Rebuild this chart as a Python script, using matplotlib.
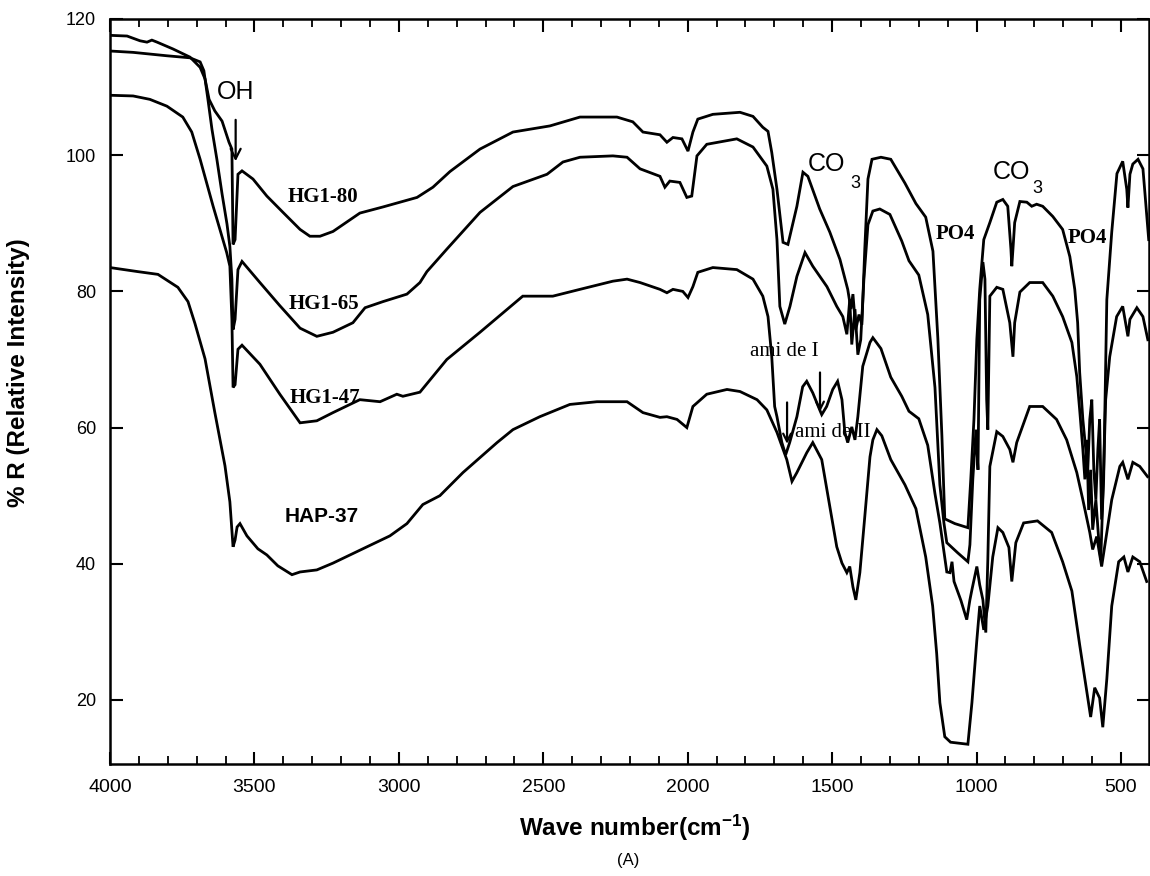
import matplotlib
matplotlib.use("Agg")
import matplotlib.pyplot as plt
from matplotlib.ticker import MultipleLocator

plt.rcParams['font.family'] = ['Liberation Sans', 'DejaVu Sans']
plt.rcParams['mathtext.fontset'] = 'custom'
plt.rcParams['mathtext.rm'] = 'Liberation Sans'
plt.rcParams['mathtext.bf'] = 'Liberation Sans:bold'
plt.rcParams['mathtext.it'] = 'Liberation Sans:italic'

# ---------------- data (wavenumber cm-1, %R) ----------------
hg80_wn = [4000, 3941, 3896, 3872, 3855, 3837, 3782, 3723, 3688, 3671, 3657, 3637, 3612, 3588, 3578,
           3574, 3567, 3557, 3543, 3505, 3457, 3401, 3342, 3308, 3273, 3228, 3135, 3055, 2937, 2882,
           2823, 2719, 2605, 2477, 2373, 2245, 2190, 2155, 2096, 2072, 2051, 2020, 1999, 1982, 1965,
           1913, 1819, 1774, 1740, 1722, 1709, 1691, 1670, 1653, 1622, 1601, 1584, 1543, 1508, 1473,
           1446, 1435, 1428, 1418, 1407, 1397, 1387, 1376, 1362, 1331, 1297, 1248, 1210, 1176, 1151,
           1134, 1120, 1110, 1075, 1030, 1020, 1009, 999, 989, 975, 954, 930, 909, 892, 881,
           878, 874, 868, 850, 826, 809, 792, 771, 736, 702, 677, 660, 650, 643, 632,
           622, 615, 608, 601, 594, 587, 580, 574, 567, 560, 549, 532, 514, 494, 480,
           476, 469, 459, 441, 424, 417, 404]
hg80_r = [117.6, 117.5, 116.8, 116.6, 116.9, 116.6, 115.6, 114.4, 112.9, 111.2, 108.2, 106.5, 105.0, 101.9, 100.9,
          86.9, 87.6, 97.2, 97.7, 96.5, 94.0, 91.6, 89.1, 88.1, 88.1, 88.8, 91.5, 92.4, 93.8, 95.3,
          97.6, 100.9, 103.4, 104.3, 105.6, 105.6, 104.9, 103.4, 103.0, 101.9, 102.6, 102.4, 100.6, 103.4, 105.3,
          106.0, 106.3, 105.7, 104.1, 103.5, 100.4, 95.0, 87.2, 86.9, 92.5, 97.5, 96.9, 92.1, 88.7, 84.7,
          80.3, 77.4, 79.6, 74.4, 76.6, 75.1, 86.2, 96.5, 99.4, 99.7, 99.4, 95.9, 92.9, 90.9, 85.9,
          73.1, 58.8, 46.6, 45.9, 45.3, 52.4, 61.2, 73.0, 80.3, 87.6, 90.1, 93.1, 93.5, 92.5, 86.2,
          83.7, 86.2, 90.1, 93.2, 93.1, 92.5, 92.8, 92.5, 91.0, 89.1, 85.1, 80.3, 75.4, 68.1, 61.2,
          56.8, 53.8, 61.2, 64.1, 53.8, 49.4, 56.8, 61.2, 46.5, 52.4, 78.8, 88.7, 97.3, 99.1, 95.0,
          92.3, 97.2, 98.7, 99.4, 98.0, 94.4, 87.6]

hg65_wn = [4000, 3920, 3803, 3723, 3688, 3675, 3661, 3647, 3630, 3612, 3595, 3585, 3578, 3574, 3567,
           3557, 3543, 3481, 3412, 3342, 3284, 3228, 3159, 3117, 3055, 2972, 2927, 2903, 2834, 2719,
           2605, 2487, 2432, 2373, 2259, 2210, 2165, 2096, 2079, 2062, 2027, 2003, 1986, 1968, 1934,
           1830, 1774, 1726, 1705, 1691, 1681, 1664, 1646, 1622, 1594, 1567, 1518, 1484, 1463, 1449,
           1439, 1432, 1421, 1411, 1401, 1390, 1376, 1359, 1335, 1300, 1259, 1234, 1200, 1169, 1144,
           1127, 1113, 1103, 1065, 1030, 1023, 1013, 1002, 995, 989, 978, 971, 965, 961, 954,
           930, 909, 885, 874, 868, 850, 816, 771, 736, 702, 670, 653, 643, 632, 625,
           618, 612, 605, 598, 587, 577, 570, 563, 553, 539, 515, 494, 476, 469, 445,
           424, 407]
hg65_r = [115.3, 115.1, 114.6, 114.3, 113.7, 112.4, 108.2, 103.8, 99.4, 94.3, 89.9, 86.6, 81.8, 74.4, 75.9,
          83.2, 84.4, 81.3, 77.9, 74.6, 73.4, 74.0, 75.4, 77.6, 78.5, 79.6, 81.3, 82.9, 86.2, 91.6,
          95.4, 97.2, 99.0, 99.7, 99.9, 99.7, 98.0, 96.9, 95.3, 96.2, 96.0, 93.8, 94.0, 99.9, 101.6,
          102.4, 101.2, 98.4, 95.0, 87.6, 77.8, 75.2, 77.8, 82.2, 85.7, 83.7, 80.7, 77.8, 76.3, 73.7,
          78.8, 72.2, 77.4, 70.7, 72.9, 81.8, 89.8, 91.8, 92.1, 91.3, 87.4, 84.5, 82.4, 76.6, 65.9,
          51.6, 46.0, 43.1, 41.6, 40.3, 42.8, 52.4, 59.7, 53.8, 78.8, 84.3, 81.8, 64.1, 59.7, 79.3,
          80.6, 80.3, 75.4, 70.4, 75.4, 79.9, 81.3, 81.3, 79.3, 76.3, 72.5, 67.5, 62.6, 56.8, 52.4,
          58.2, 47.9, 53.8, 45.0, 49.4, 43.5, 40.6, 49.4, 64.1, 70.4, 76.3, 77.8, 73.4, 75.9, 77.6,
          76.3, 72.9]

hg47_wn = [4000, 3920, 3862, 3803, 3748, 3717, 3688, 3643, 3596, 3585, 3578, 3574, 3567, 3557, 3543,
           3481, 3412, 3342, 3284, 3228, 3135, 3065, 3007, 2986, 2927, 2834, 2719, 2571, 2467, 2373,
           2259, 2210, 2165, 2096, 2072, 2051, 2017, 1999, 1982, 1965, 1913, 1830, 1774, 1740, 1722,
           1709, 1699, 1691, 1674, 1661, 1647, 1622, 1602, 1588, 1567, 1543, 1536, 1519, 1498, 1481,
           1466, 1456, 1446, 1432, 1421, 1411, 1394, 1369, 1359, 1331, 1297, 1259, 1234, 1200, 1169,
           1144, 1127, 1103, 1092, 1085, 1078, 1054, 1034, 1023, 1016, 999, 989, 978, 968, 961,
           954, 930, 909, 885, 874, 861, 816, 771, 723, 688, 653, 632, 608, 598, 584,
           567, 549, 532, 504, 494, 476, 459, 435, 408]
hg47_r = [108.8, 108.7, 108.2, 107.2, 105.6, 103.4, 99.4, 92.5, 85.7, 83.7, 75.9, 65.9, 66.3, 71.5, 72.1,
          69.3, 64.9, 60.7, 61.0, 62.2, 64.1, 63.8, 64.9, 64.6, 65.2, 70.0, 74.0, 79.3, 79.3, 80.3,
          81.5, 81.8, 81.3, 80.3, 79.8, 80.3, 80.0, 79.1, 80.7, 82.8, 83.5, 83.2, 81.8, 79.3, 76.3,
          70.4, 63.1, 61.6, 57.8, 56.0, 57.8, 61.6, 66.0, 66.8, 65.1, 62.6, 61.9, 63.1, 65.6, 66.8,
          64.1, 59.3, 57.8, 60.1, 58.2, 61.6, 69.0, 72.5, 73.2, 71.6, 67.4, 64.6, 62.4, 61.3, 57.4,
          50.3, 46.0, 38.8, 38.7, 40.3, 37.4, 34.6, 31.8, 34.7, 36.2, 39.6, 36.9, 34.7, 29.9, 40.6,
          54.3, 59.4, 58.7, 56.8, 54.9, 57.8, 63.1, 63.1, 61.2, 58.2, 53.4, 49.4, 44.6, 42.1, 44.0,
          39.6, 44.6, 49.4, 54.3, 54.9, 52.4, 54.9, 54.3, 52.8]

hap37_wn = [4000, 3903, 3834, 3765, 3730, 3706, 3671, 3637, 3602, 3585, 3574, 3567, 3560, 3550, 3526,
            3488, 3457, 3419, 3370, 3342, 3284, 3228, 3169, 3110, 3031, 2972, 2917, 2858, 2778, 2660,
            2605, 2512, 2408, 2314, 2210, 2155, 2096, 2072, 2037, 2003, 1982, 1934, 1864, 1819, 1760,
            1726, 1691, 1657, 1639, 1622, 1588, 1567, 1536, 1508, 1484, 1466, 1449, 1439, 1428, 1418,
            1404, 1387, 1369, 1359, 1345, 1328, 1297, 1248, 1210, 1176, 1152, 1138, 1127, 1110, 1090,
            1030, 1016, 999, 989, 975, 961, 944, 926, 909, 888, 878, 864, 837, 789, 740,
            702, 670, 643, 615, 605, 591, 574, 563, 549, 532, 508, 490, 476, 459, 435,
            411]
hap37_r = [83.5, 82.9, 82.5, 80.6, 78.5, 75.3, 70.1, 62.2, 54.4, 49.1, 42.5, 43.5, 45.4, 45.9, 44.1,
           42.2, 41.3, 39.7, 38.4, 38.8, 39.1, 40.1, 41.3, 42.5, 44.1, 45.9, 48.7, 50.0, 53.4, 57.8,
           59.7, 61.6, 63.4, 63.8, 63.8, 62.2, 61.5, 61.6, 61.2, 60.0, 63.1, 64.9, 65.6, 65.3, 64.1,
           62.6, 59.3, 55.3, 52.1, 53.4, 56.3, 57.8, 55.3, 48.4, 42.5, 40.1, 38.7, 39.6, 36.6, 34.7,
           38.7, 46.9, 55.7, 58.2, 59.7, 58.8, 55.3, 51.6, 48.1, 41.0, 33.8, 26.8, 19.6, 14.6, 13.8,
           13.5, 19.6, 28.8, 33.8, 30.3, 33.8, 41.0, 45.3, 44.6, 42.4, 37.4, 43.1, 46.0, 46.3, 44.6,
           40.3, 36.0, 28.1, 20.3, 17.5, 21.8, 20.3, 16.0, 23.1, 33.8, 40.3, 41.0, 38.8, 41.0, 40.3,
           37.4]

series_labels = ['HG1-80', 'HG1-65', 'HG1-47', 'HAP-37']
x_ticks = [4000, 3500, 3000, 2500, 2000, 1500, 1000, 500]
y_ticks = [20, 40, 60, 80, 100, 120]

# ---------------- figure ----------------
fig = plt.figure(figsize=(11.5, 8.76), dpi=100)
ax = fig.add_axes([110/1150, 1 - 764/876, (1149 - 110)/1150, (764 - 19)/876])

lw = 2.0
for wn, r in [(hg80_wn, hg80_r), (hg65_wn, hg65_r), (hg47_wn, hg47_r), (hap37_wn, hap37_r)]:
    ax.plot(wn, r, color='black', lw=lw, solid_joinstyle='miter')

ax.set_xlim(4000, 403)
ax.set_ylim(10.6, 120)
ax.set_xticks(x_ticks)
ax.set_yticks(y_ticks)
ax.xaxis.set_minor_locator(MultipleLocator(100))
ax.tick_params(axis='x', which='major', direction='in', length=9, width=1.5,
               top=True, bottom=True, labelsize=14, pad=11)
ax.tick_params(axis='x', which='minor', direction='in', length=5.5, width=1.3,
               top=True, bottom=True)
ax.tick_params(axis='y', which='major', direction='in', length=9, width=1.5,
               left=True, right=True, labelsize=13, pad=10)
for s in ax.spines.values():
    s.set_linewidth(1.8)

serif_bold = dict(family=['Liberation Serif', 'DejaVu Serif'], fontweight='bold', fontsize=15)
ax.text(3263, 93.8, series_labels[0], ha='center', va='center', **serif_bold)
ax.text(3260, 78.2, series_labels[1], ha='center', va='center', **serif_bold)
ax.text(3256, 64.4, series_labels[2], ha='center', va='center', **serif_bold)
ax.text(3267, 46.9, series_labels[3], ha='center', va='center', fontweight='bold', fontsize=15)

# OH annotation
ax.text(3566, 109.3, 'OH', ha='center', va='center', fontsize=18)
ax.annotate('', xy=(3565, 98.7), xytext=(3565, 105.6),
            arrowprops=dict(arrowstyle='->', lw=1.6, color='black', mutation_scale=18))

# CO3 labels
ax.text(1518, 98.7, 'CO', ha='center', va='center', fontsize=18)
ax.text(1418, 95.9, '3', ha='center', va='center', fontsize=13)
ax.text(878, 97.6, 'CO', ha='center', va='center', fontsize=18)
ax.text(788, 95.1, '3', ha='center', va='center', fontsize=13)

# PO4 labels
ax.text(1075, 88.4, 'PO4', ha='center', va='center', **serif_bold)
ax.text(618, 87.9, 'PO4', ha='center', va='center', **serif_bold)

# amide labels
serif = dict(family=['Liberation Serif', 'DejaVu Serif'], fontsize=15)
ax.text(1664, 71.2, 'ami de I', ha='center', va='center', **serif)
ax.text(1498, 59.3, 'ami de II', ha='center', va='center', **serif)
ax.annotate('', xy=(1542, 61.9), xytext=(1542, 68.5),
            arrowprops=dict(arrowstyle='->', lw=1.6, color='black', mutation_scale=14))
ax.annotate('', xy=(1656, 57.2), xytext=(1656, 64.1),
            arrowprops=dict(arrowstyle='->', lw=1.6, color='black', mutation_scale=14))

# axis labels
fig.text(635/1150, 1 - 828/876, r'Wave number(cm$^{\mathbf{-1}}$)', ha='center', va='center',
         fontsize=17.5, fontweight='bold')
fig.text(19/1150, 1 - 373/876, '% R (Relative Intensity)', ha='center', va='center',
         rotation=90, fontsize=17.5, fontweight='bold')
fig.text(628/1150, 1 - 860/876, '(A)', ha='center', va='center', fontsize=12)

fig.savefig('out.png', dpi=100)
